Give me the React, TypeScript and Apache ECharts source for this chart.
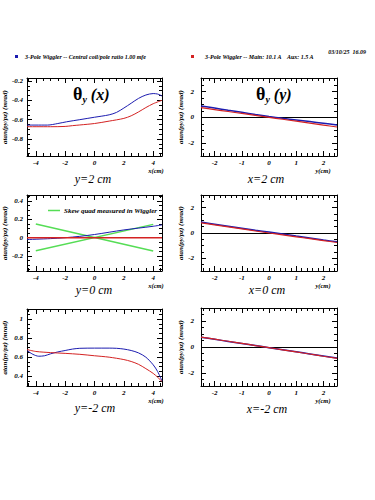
import React, { useEffect, useRef } from "react";
import * as echarts from "echarts";

const FONT = "'Liberation Serif', 'DejaVu Serif', serif";
const BLUE = "#1c1cb0";
const RED = "#d42222";
const GREEN = "#55dd55";

// ---- tick labels ----
const xTicksLeft = [-4, -2, 0, 2, 4];
const xTicksRight = [-2, -1, 0, 1, 2];
const yTicksTL = [-0.8, -0.6, -0.4, -0.2];
const yTicksML = [-0.2, 0, 0.2, 0.4];
const yTicksBL = [0.4, 0.6, 0.8, 1];
const yTicksRight = [-2, 0, 2];

// ---- data: top-left (y = 2 cm) ----
const tlBlueX = [-4.6, -3.2, -2.5, -1.9, -1, 0, 1, 1.5, 2, 2.5, 3, 3.5, 4, 4.3, 4.6];
const tlBlueY = [-0.656, -0.656, -0.64, -0.622, -0.6, -0.575, -0.55, -0.525, -0.48, -0.43, -0.38, -0.345, -0.33, -0.335, -0.355];
const tlRedX = [-4.6, -3, -2, -1.5, -1, 0, 1, 2, 2.5, 3, 3.5, 4, 4.6];
const tlRedY = [-0.673, -0.673, -0.67, -0.662, -0.655, -0.64, -0.615, -0.587, -0.56, -0.52, -0.475, -0.435, -0.4];

// ---- data: middle-left (y = 0 cm) ----
const mlBlueX = [-4.6, -3, -2, -1, 0, 1, 2, 3, 4, 4.6];
const mlBlueY = [-0.02, -0.01, 0.0, 0.015, 0.035, 0.06, 0.085, 0.105, 0.125, 0.14];
const mlRedX = [-4.6, -2, 0, 2, 4.6];
const mlRedY = [0, 0, 0, 0, 0];
const mlGreen1X = [-4, 4];
const mlGreen1Y = [0.15, -0.145];
const mlGreen2X = [-4, 4];
const mlGreen2Y = [-0.142, 0.146];

// ---- data: bottom-left (y = -2 cm) ----
const blBlueX = [-4.6, -4.2, -3.8, -3.4, -3, -2.5, -2, -1.5, -1, 0, 1, 1.5, 2, 2.5, 3, 3.5, 4, 4.3, 4.6];
const blBlueY = [0.67, 0.63, 0.61, 0.615, 0.635, 0.655, 0.67, 0.685, 0.693, 0.695, 0.695, 0.693, 0.685, 0.67, 0.645, 0.6, 0.52, 0.45, 0.35];
const blRedX = [-4.6, -4, -3, -2, -1, 0, 1, 2, 2.5, 3, 3.5, 4, 4.3, 4.6];
const blRedY = [0.68, 0.66, 0.648, 0.64, 0.63, 0.615, 0.6, 0.575, 0.555, 0.525, 0.48, 0.43, 0.39, 0.345];

// ---- data: right column (x = 2, 0, -2 cm) ----
const rX = [-2.5, -2, -1.5, -1, -0.5, 0, 0.5, 1, 1.5, 2, 2.5];
const trBlueY = [0.88, 0.72, 0.55, 0.39, 0.22, 0.06, -0.08, -0.2, -0.33, -0.46, -0.6];
const trRedY = [0.75, 0.6, 0.45, 0.3, 0.15, 0.0, -0.15, -0.3, -0.45, -0.6, -0.75];
const mrBlueY = [0.86, 0.7, 0.54, 0.38, 0.22, 0.07, -0.08, -0.24, -0.39, -0.55, -0.7];
const mrRedY = [0.8, 0.64, 0.48, 0.32, 0.16, 0.0, -0.15, -0.3, -0.45, -0.6, -0.75];
const brBlueY = [0.75, 0.59, 0.43, 0.27, 0.11, -0.05, -0.21, -0.37, -0.53, -0.69, -0.85];
const brRedY = [0.76, 0.6, 0.44, 0.28, 0.11, -0.05, -0.22, -0.38, -0.54, -0.71, -0.87];

const zip = (xs: number[], ys: number[]) => xs.map((x, i) => [x, ys[i]]);

type SeriesDef = { data: number[][]; color: string; width: number; smooth: number };
type Panel = {
  left: number; top: number; width: number; height: number;
  xMin: number; xMax: number; xMajor: number[]; xMinorStep: number;
  yMin: number; yMax: number; yMajor: number[]; yMinorStep: number;
  labelMargin: number; nameGap: number; zeroLine: boolean;
  series: SeriesDef[];
};

const panels: Panel[] = [
  {
    left: 27, top: 78, width: 135, height: 78,
    xMin: -4.6, xMax: 4.6, xMajor: xTicksLeft, xMinorStep: 0.5,
    yMin: -0.976, yMax: -0.169, yMajor: yTicksTL, yMinorStep: 0.05,
    labelMargin: 4, nameGap: 19, zeroLine: false,
    series: [
      { data: zip(tlBlueX, tlBlueY), color: BLUE, width: 1, smooth: 0.3 },
      { data: zip(tlRedX, tlRedY), color: RED, width: 1, smooth: 0.3 },
    ],
  },
  {
    left: 201, top: 78, width: 136, height: 78,
    xMin: -2.5, xMax: 2.5, xMajor: xTicksRight, xMinorStep: 0.2,
    yMin: -3, yMax: 3.05, yMajor: yTicksRight, yMinorStep: 0.5,
    labelMargin: 7, nameGap: 17, zeroLine: true,
    series: [
      { data: zip(rX, trBlueY), color: BLUE, width: 1.5, smooth: 0.2 },
      { data: zip(rX, trRedY), color: RED, width: 1.2, smooth: 0.2 },
    ],
  },
  {
    left: 27, top: 195, width: 135, height: 76,
    xMin: -4.6, xMax: 4.6, xMajor: xTicksLeft, xMinorStep: 0.5,
    yMin: -0.364, yMax: 0.467, yMajor: yTicksML, yMinorStep: 0.05,
    labelMargin: 4, nameGap: 19, zeroLine: true,
    series: [
      { data: zip(mlGreen1X, mlGreen1Y), color: GREEN, width: 1.5, smooth: 0 },
      { data: zip(mlGreen2X, mlGreen2Y), color: GREEN, width: 1.5, smooth: 0 },
      { data: zip(mlBlueX, mlBlueY), color: BLUE, width: 1, smooth: 0.3 },
      { data: zip(mlRedX, mlRedY), color: RED, width: 1.5, smooth: 0 },
    ],
  },
  {
    left: 201, top: 195, width: 136, height: 76,
    xMin: -2.5, xMax: 2.5, xMajor: xTicksRight, xMinorStep: 0.2,
    yMin: -3, yMax: 3, yMajor: yTicksRight, yMinorStep: 0.5,
    labelMargin: 7, nameGap: 17, zeroLine: true,
    series: [
      { data: zip(rX, mrBlueY), color: BLUE, width: 1.5, smooth: 0.2 },
      { data: zip(rX, mrRedY), color: RED, width: 1.2, smooth: 0.2 },
    ],
  },
  {
    left: 27, top: 309, width: 135, height: 77,
    xMin: -4.6, xMax: 4.6, xMajor: xTicksLeft, xMinorStep: 0.5,
    yMin: 0.298, yMax: 1.105, yMajor: yTicksBL, yMinorStep: 0.05,
    labelMargin: 4, nameGap: 19, zeroLine: false,
    series: [
      { data: zip(blBlueX, blBlueY), color: BLUE, width: 1, smooth: 0.3 },
      { data: zip(blRedX, blRedY), color: RED, width: 1, smooth: 0.3 },
    ],
  },
  {
    left: 201, top: 308, width: 136, height: 78,
    xMin: -2.5, xMax: 2.5, xMajor: xTicksRight, xMinorStep: 0.2,
    yMin: -3, yMax: 3, yMajor: yTicksRight, yMinorStep: 0.5,
    labelMargin: 7, nameGap: 17, zeroLine: true,
    series: [
      { data: zip(rX, brBlueY), color: BLUE, width: 1.5, smooth: 0.2 },
      { data: zip(rX, brRedY), color: RED, width: 1.2, smooth: 0.2 },
    ],
  },
];

function steps(min: number, max: number, step: number, exclude: number[]) {
  const out: number[] = [];
  for (let k = Math.ceil(min / step - 1e-9); k * step <= max + 1e-9; k++) {
    const v = +(k * step).toFixed(4);
    if (!exclude.some((m) => Math.abs(m - v) < 1e-6)) out.push(v);
  }
  return out;
}

const fmt = (v: number) => String(+v.toFixed(2));
const tickFont = { fontSize: 7, fontFamily: FONT, fontWeight: "bold" as const, fontStyle: "italic" as const, color: "#000" };

function buildAxes(gi: number, p: Panel) {
  const xMinor = steps(p.xMin, p.xMax, p.xMinorStep, p.xMajor);
  const yMinor = steps(p.yMin, p.yMax, p.yMinorStep, p.yMajor);
  const line = (show: boolean) => ({ show, onZero: false, lineStyle: { color: "#000", width: 1 } });
  const tick = (vals: number[], len: number) => ({
    show: true, inside: true, length: len, customValues: vals, lineStyle: { color: "#000", width: 1 },
  });
  const xb = { type: "value", gridIndex: gi, min: p.xMin, max: p.xMax, splitLine: { show: false } };
  const yb = { type: "value", gridIndex: gi, min: p.yMin, max: p.yMax, splitLine: { show: false } };
  const x = [
    { ...xb, position: "bottom", axisLine: line(true), axisTick: tick(p.xMajor, 5),
      axisLabel: { show: true, customValues: p.xMajor, margin: 3, formatter: fmt, ...tickFont } },
    { ...xb, position: "bottom", axisLine: line(false), axisTick: tick(xMinor, 3), axisLabel: { show: false } },
    { ...xb, position: "top", axisLine: line(true), axisTick: tick(p.xMajor, 5), axisLabel: { show: false } },
    { ...xb, position: "top", axisLine: line(false), axisTick: tick(xMinor, 3), axisLabel: { show: false } },
  ];
  const y = [
    { ...yb, position: "left", axisLine: line(true), axisTick: tick(p.yMajor, 5),
      axisLabel: { show: true, customValues: p.yMajor, margin: p.labelMargin, formatter: fmt, ...tickFont },
      name: "atan(py/pz) (mrad)", nameLocation: "middle", nameRotate: 90, nameGap: p.nameGap,
      nameTextStyle: { fontSize: 7, fontFamily: FONT, fontWeight: "bold", fontStyle: "italic", color: "#000" } },
    { ...yb, position: "left", axisLine: line(false), axisTick: tick(yMinor, 3), axisLabel: { show: false } },
    { ...yb, position: "right", axisLine: line(true), axisTick: tick(p.yMajor, 5), axisLabel: { show: false } },
    { ...yb, position: "right", axisLine: line(false), axisTick: tick(yMinor, 3), axisLabel: { show: false } },
  ];
  return { x, y };
}

const txt = (x: number, y: number, text: string, size: number, opts: any = {}) => ({
  type: "text", x, y, silent: true,
  style: {
    text, fill: "#000", fontSize: size, fontFamily: FONT,
    fontWeight: opts.weight ?? "normal", fontStyle: opts.style ?? "italic",
    align: opts.align ?? "center", verticalAlign: "middle",
  },
});

const thetaLabel = (x: number, y: number, v: string) => ({
  type: "text", x, y, silent: true,
  style: {
    text: `{t|θ}{s|y}{u| (${v})}`,
    align: "left", verticalAlign: "middle",
    rich: {
      t: { fontSize: 18, fontFamily: FONT, fontWeight: "bold", fill: "#000", lineHeight: 20 },
      s: { fontSize: 10, fontFamily: FONT, fontWeight: "bold", fontStyle: "italic", fill: "#000", lineHeight: 20, verticalAlign: "bottom", padding: [9, 0, 0, 0] },
      u: { fontSize: 16, fontFamily: FONT, fontWeight: "bold", fontStyle: "italic", fill: "#000", lineHeight: 20 },
    },
  },
});

export default function App() {
  const ref = useRef<HTMLDivElement>(null);
  useEffect(() => {
    if (!ref.current) return;
    const chart = echarts.init(ref.current, undefined, { renderer: "svg" });
    const grids: any[] = [];
    const xAxis: any[] = [];
    const yAxis: any[] = [];
    const series: any[] = [];
    panels.forEach((p, i) => {
      grids.push({ left: p.left, top: p.top, width: p.width, height: p.height, containLabel: false, outerBoundsMode: "none" });
      const a = buildAxes(i, p);
      xAxis.push(...a.x);
      yAxis.push(...a.y);
      p.series.forEach((s, k) => {
        series.push({
          type: "line", xAxisIndex: i * 4, yAxisIndex: i * 4, data: s.data,
          showSymbol: false, smooth: s.smooth, silent: true,
          lineStyle: { color: s.color, width: s.width }, itemStyle: { color: s.color },
          z: 3 + k,
          markLine: p.zeroLine && k === 0
            ? { silent: true, symbol: "none", label: { show: false }, lineStyle: { color: "#000", width: 1, type: "solid" }, data: [{ yAxis: 0 }], z: 2 }
            : undefined,
        });
      });
    });
    const graphic: any[] = [
      txt(366, 52, "03/10/25  16.09", 6, { weight: "bold", align: "right" }),
      { type: "rect", shape: { x: 15, y: 55, width: 3, height: 3 }, style: { fill: BLUE } },
      txt(25, 56.5, "3-Pole Wiggler -- Central coil/pole ratio 1.00 mfe", 6, { weight: "bold", align: "left" }),
      { type: "rect", shape: { x: 191, y: 55, width: 3, height: 3 }, style: { fill: RED } },
      txt(205, 56.5, "3-Pole Wiggler -- Main: 10.1 A    Aux: 1.5 A", 6, { weight: "bold", align: "left" }),
      thetaLabel(73, 94, "x"),
      thetaLabel(256, 94, "y"),
      { type: "line", shape: { x1: 48, y1: 210.5, x2: 60, y2: 210.5 }, style: { stroke: GREEN, lineWidth: 1.5 } },
      txt(64, 210.5, "Skew quad measured in Wiggler", 7, { weight: "bold", align: "left" }),
      txt(156, 170, "x(cm)", 6.5, { weight: "bold" }),
      txt(156, 285.5, "x(cm)", 6.5, { weight: "bold" }),
      txt(156, 400, "x(cm)", 6.5, { weight: "bold" }),
      txt(323, 170, "y(cm)", 6.5, { weight: "bold" }),
      txt(323, 285.5, "y(cm)", 6.5, { weight: "bold" }),
      txt(323, 400, "y(cm)", 6.5, { weight: "bold" }),
      txt(93, 178.5, "y=2 cm", 12),
      txt(94, 289.5, "y=0 cm", 12),
      txt(95, 408, "y=-2 cm", 12),
      txt(266, 178.5, "x=2 cm", 12),
      txt(267, 289.5, "x=0 cm", 12),
      txt(267, 408.5, "x=-2 cm", 12),
    ];
    chart.setOption({
      animation: false,
      backgroundColor: "#fff",
      grid: grids,
      xAxis,
      yAxis,
      series,
      graphic,
    });
    return () => chart.dispose();
  }, []);
  return <div ref={ref} style={{ position: "fixed", left: 0, top: 0, width: 375, height: 500 }} />;
}
